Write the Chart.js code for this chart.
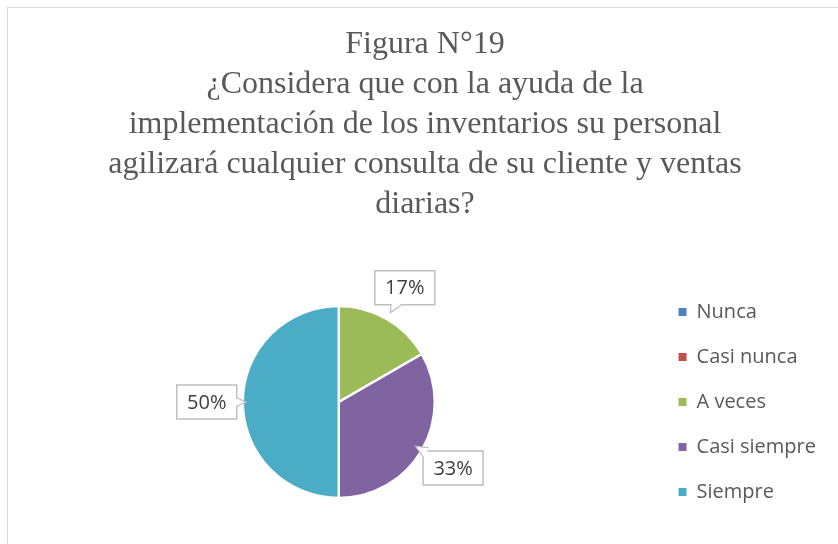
<!DOCTYPE html>
<html>
<head>
<meta charset="utf-8">
<script src="https://cdn.jsdelivr.net/npm/chart.js@4.4.0/dist/chart.umd.min.js"></script>
<style>
  html, body { margin: 0; padding: 0; background: #fff; }
  #frame { position: absolute; left: 7px; top: 7px; width: 900px; height: 600px; border: 1px solid #d9d9d9; }
  #wrap { position: absolute; left: 0; top: 0; width: 838px; height: 544px; }
</style>
</head>
<body>
<div id="frame"></div>
<div id="wrap"><canvas id="pieChart" width="838" height="544"></canvas></div>
<script>
  // datos de la figura 19
  const categories = ["Nunca", "Casi nunca", "A veces", "Casi siempre", "Siempre"]
  const values = [0, 0, 1, 2, 3]
  const colors = ["#4F81BD", "#C0504D", "#9BBB59", "#8064A2", "#4BACC6"]
  const titleLines = [
    "Figura N°19",
    "¿Considera que con la ayuda de la",
    "implementación de los inventarios su personal",
    "agilizará cualquier consulta de su cliente y ventas",
    "diarias?"
  ]

  let total = values.reduce((a, b) => a + b, 0)

  // etiquetas tipo globo como en excel
  let calloutLabels = {
    id: "calloutLabels",
    afterDatasetsDraw(chart) {
      let ctx = chart.ctx
      let meta = chart.getDatasetMeta(0)
      ctx.save()
      ctx.font = "20px 'Open Sans'"
      ctx.textAlign = "center"
      ctx.textBaseline = "middle"
      meta.data.forEach((arc, i) => {
        if (!values[i]) return
        let p = arc.getProps(["x", "y", "startAngle", "endAngle", "outerRadius"], true)
        let mid = (p.startAngle + p.endAngle) / 2
        let dist = p.outerRadius + 36
        let cx = p.x + Math.cos(mid) * dist
        let cy = p.y + Math.sin(mid) * dist
        let txt = Math.round(values[i] / total * 100) + "%"
        let w = 60, h = 34
        let left = cx - w / 2, top = cy - h / 2

        // punta del globo hacia el centro del pastel
        let dx = p.x - cx, dy = p.y - cy
        let len = Math.sqrt(dx * dx + dy * dy)
        let ux = dx / len, uy = dy / len
        let t
        if (Math.abs(dx) * h > Math.abs(dy) * w) t = (w / 2) / Math.abs(dx)
        else t = (h / 2) / Math.abs(dy)
        let ex = cx + dx * t, ey = cy + dy * t
        let px = -uy, py = ux
        let tipX = ex + ux * 9, tipY = ey + uy * 9
        let b1x = ex + px * 5 - ux * 2, b1y = ey + py * 5 - uy * 2
        let b2x = ex - px * 5 - ux * 2, b2y = ey - py * 5 - uy * 2

        ctx.strokeStyle = "#bfbfbf"
        ctx.lineWidth = 1.5
        ctx.fillStyle = "#fff"
        ctx.beginPath()
        ctx.moveTo(b1x, b1y)
        ctx.lineTo(tipX, tipY)
        ctx.lineTo(b2x, b2y)
        ctx.closePath()
        ctx.fill()
        ctx.stroke()

        ctx.beginPath()
        ctx.rect(left, top, w, h)
        ctx.fill()
        ctx.stroke()

        ctx.beginPath()
        ctx.moveTo(b1x - ux * 1, b1y - uy * 1)
        ctx.lineTo(tipX - ux * 1.5, tipY - uy * 1.5)
        ctx.lineTo(b2x - ux * 1, b2y - uy * 1)
        ctx.closePath()
        ctx.fill()

        ctx.fillStyle = "#404040"
        ctx.fillText(txt, cx, cy + 1)
      })
      ctx.restore()
    }
  }

  let ctx = document.getElementById("pieChart").getContext("2d")
  let pieRef = new Chart(ctx, {
    type: "pie",
    data: {
      labels: categories,
      datasets: [{
        data: values,
        backgroundColor: colors,
        borderColor: "#fff",
        borderWidth: 2.5
      }]
    },
    options: {
      responsive: false,
      animation: false,
      radius: 96,
      layout: { padding: { left: 24, right: 12, top: 25, bottom: 0 } },
      plugins: {
        title: {
          display: true,
          text: titleLines,
          color: "#595959",
          font: { family: "'Liberation Serif'", size: 32, weight: "normal", lineHeight: 1.25 },
          padding: { top: 0, bottom: 35 }
        },
        legend: {
          position: "right",
          fullSize: false,
          labels: {
            color: "#595959",
            font: { family: "'Open Sans'", size: 20 },
            boxWidth: 8,
            boxHeight: 8,
            padding: 25,
            generateLabels(chart) {
              let items = Chart.overrides.pie.plugins.legend.labels.generateLabels(chart)
              items.forEach(it => { it.lineWidth = 0; it.strokeStyle = it.fillStyle })
              return items
            }
          }
        },
        tooltip: { enabled: false }
      }
    },
    plugins: [calloutLabels]
  })
</script>
</body>
</html>
